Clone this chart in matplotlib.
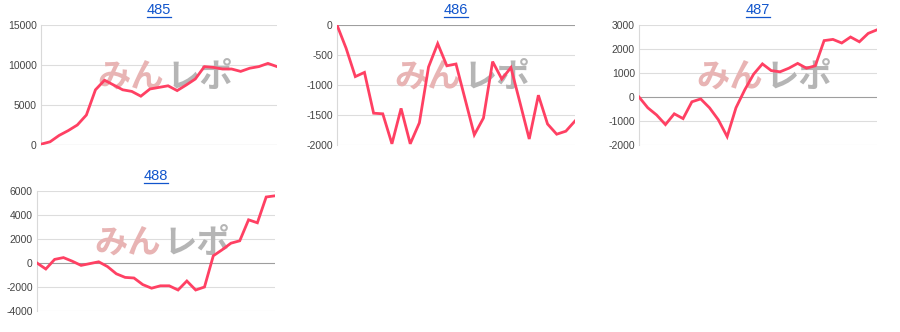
import matplotlib
matplotlib.use("Agg")
import matplotlib.pyplot as plt
from matplotlib.lines import Line2D

titles = ["485", "486", "487", "488"]

s485 = [100, 400, 1200, 1800, 2500, 3750, 6900, 8100, 7500, 6900, 6700, 6100, 7000,
        7200, 7400, 6800, 7500, 8250, 9800, 9700, 9500, 9500, 9200, 9600, 9800, 10200, 9800]
s486 = [0, -390, -860, -790, -1470, -1480, -1980, -1390, -1980, -1630, -700, -310, -680,
        -650, -1240, -1830, -1550, -610, -900, -710, -1300, -1900, -1170, -1650, -1820,
        -1770, -1600]
s487 = [0, -450, -750, -1150, -700, -900, -200, -80, -450, -950, -1650, -450, 300, 950,
        1380, 1100, 1050, 1200, 1400, 1200, 1300, 2350, 2400, 2250, 2500, 2300, 2650, 2800]
s488 = [0, -500, 300, 450, 150, -200, -50, 100, -300, -900, -1200, -1250, -1800, -2100,
        -1900, -1900, -2250, -1500, -2250, -2000, 600, 1100, 1650, 1850, 3600, 3350, 5500,
        5600]

series = [s485, s486, s487, s488]
yticks = [
    [0, 5000, 10000, 15000],
    [-2000, -1500, -1000, -500, 0],
    [-2000, -1000, 0, 1000, 2000, 3000],
    [-4000, -2000, 0, 2000, 4000, 6000],
]

W, H = 900, 332
# axes boxes in pixels: (left, top, right, bottom)
boxes = [(41, 25, 277, 145), (337, 25, 575, 145), (639, 25, 877, 145), (37, 191, 275, 311)]

fig = plt.figure(figsize=(9, 3.32), dpi=100)
fig.patch.set_facecolor("white")

line_color = "#ff4063"
titles_info = []
for title, data, ticks, (l, t, r, b) in zip(titles, series, yticks, boxes):
    ax = fig.add_axes([l / W, (H - b) / H, (r - l) / W, (b - t) / H])
    x = list(range(len(data)))
    ax.plot(x, data, color=line_color, lw=2.0, zorder=5, solid_joinstyle="miter")
    ax.set_xlim(0, len(data) - 1)
    ax.set_ylim(ticks[0], ticks[-1])
    ax.set_yticks(ticks)
    ax.set_yticklabels([str(v) for v in ticks], fontsize=7.5, color="#444444",
                       family="Liberation Sans")
    ax.set_xticks([])
    ax.tick_params(axis="y", length=0, pad=3)
    for sp in ["top", "right", "bottom"]:
        ax.spines[sp].set_visible(False)
    ax.spines["left"].set_color("#d9d9d9")
    ax.spines["left"].set_linewidth(0.8)
    for v in ticks:
        ax.axhline(v, color="#9e9e9e" if v == 0 else "#dddddd", lw=0.8,
                   zorder=1 if v != 0 else 2)
    # watermark
    ax.text(0.52, 0.56, "みん", transform=ax.transAxes, ha="right", va="center",
            fontsize=24, color="#e8b4b4", family="Noto Sans CJK JP",
            fontweight="bold", zorder=3)
    ax.text(0.53, 0.56, "レポ", transform=ax.transAxes, ha="left", va="center",
            fontsize=24, color="#b5b5b5", family="Noto Sans CJK JP",
            fontweight="bold", zorder=3)
    cx = (l + r) / 2 / W
    ty = (H - (t - 15)) / H
    txt = fig.text(cx, ty, title, ha="center", va="center", fontsize=10.5,
                   color="#1155cc", family="Liberation Sans")
    titles_info.append(txt)

fig.canvas.draw()
renderer = fig.canvas.get_renderer()
for txt in titles_info:
    bb = txt.get_window_extent(renderer)
    y = (bb.y0 - 0.3) / H
    fig.add_artist(Line2D([bb.x0 / W, bb.x1 / W], [y, y], color="#1155cc", lw=0.9,
                          transform=fig.transFigure))

fig.savefig("out.png", dpi=100, facecolor="white")
